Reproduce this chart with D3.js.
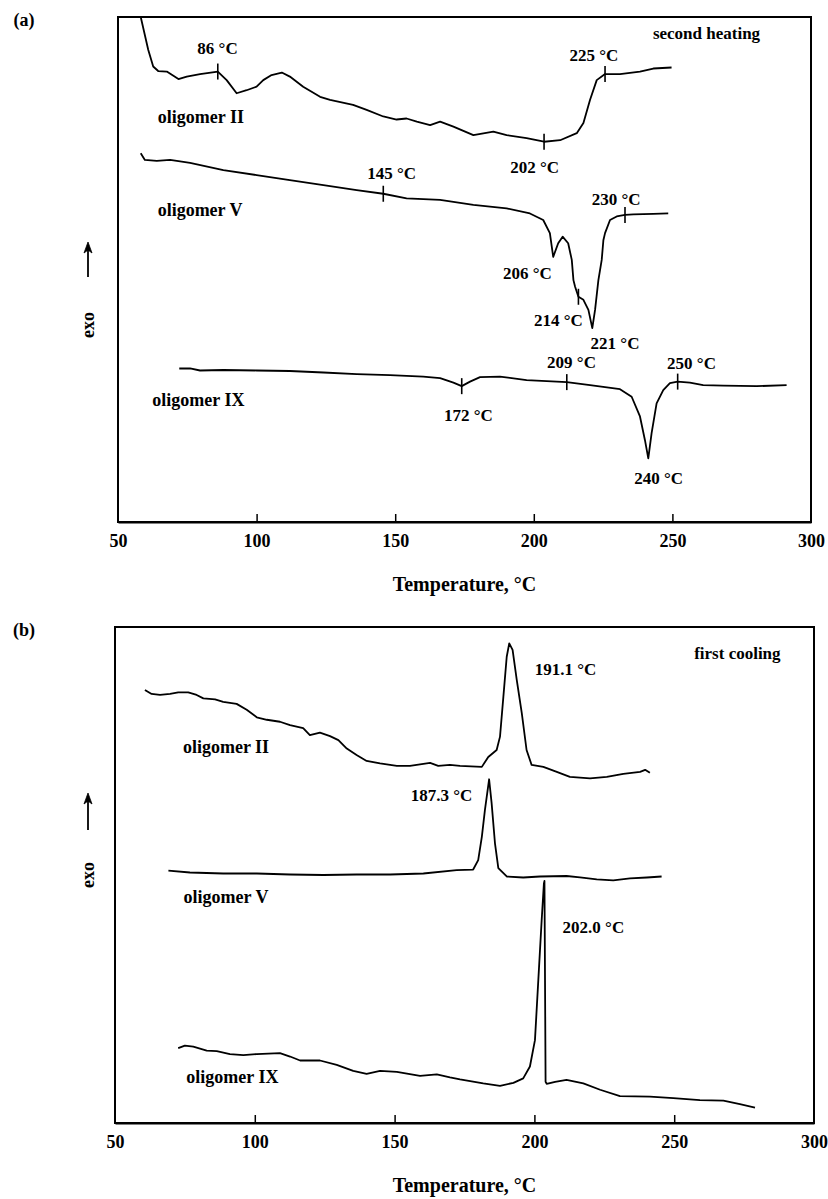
<!DOCTYPE html>
<html>
<head>
<meta charset="utf-8">
<script src="https://cdn.jsdelivr.net/npm/d3@7"></script>
<style>
body { margin: 0; background: #fff; }
svg text { font-family: "Liberation Serif", "Times New Roman", serif; font-weight: bold; fill: #000; }
</style>
</head>
<body>
<svg id="chart" width="828" height="1199"></svg>
<script>

// x: temperature (°C), y: heat flow in arbitrary units (0 = bottom of frame, 100 = top)
var tempTicks = [50, 100, 150, 200, 250, 300];

// (a) second heating
var heatII = [[58.2,100],[60.9,93.5],[62.7,90.2],[64.5,89.3],[67.6,89.2],[71.8,87.7],[74.8,88.2],[79.6,88.7],[86.0,89.2],
	[89.2,87.5],[92.8,84.9],[96.4,85.5],[100.0,86.2],[102.4,87.5],[105.4,88.5],[109.1,89.0],[112.0,88.2],[116.8,86.2],
	[122.9,84.2],[126.5,83.6],[134.8,82.6],[139.7,81.6],[145.7,80.3],[150.5,79.7],[154.1,79.9],[157.8,79.3],[162.6,78.6],
	[166.2,79.3],[171.0,78.3],[178.2,76.6],[185.4,77.3],[190.2,76.6],[197.4,76.0],[203.7,75.3],[209.5,75.6],[215.5,77.0],
	[217.9,79.0],[220.3,83.6],[222.7,87.5],[225.7,88.7],[231.1,88.7],[238.3,89.2],[243.1,89.8],[249.7,90.0]];

var heatV = [[58.2,73.0],[59.7,71.7],[64.0,71.5],[68.8,71.7],[76.0,71.1],[88.0,69.7],[100.0,68.7],[112.0,67.7],[124.1,66.7],
	[136.1,65.7],[145.7,65.0],[154.1,64.1],[166.2,63.8],[178.2,62.8],[190.2,62.1],[198.6,61.1],[203.4,59.8],[205.8,57.2],
	[207.0,52.5],[208.8,55.2],[210.4,56.5],[212.4,55.2],[213.7,51.9],[214.3,47.9],[214.9,46.6],[216.1,44.6],[217.9,44.0],
	[219.7,42.0],[221.1,38.4],[222.1,42.0],[223.3,47.9],[224.5,51.9],[225.1,55.8],[225.7,57.2],[227.5,59.8],[229.9,60.5],
	[232.9,60.8],[235.9,60.9],[243.1,61.0],[248.5,61.1]];

var heatIX = [[72.1,30.4],[76.0,30.4],[79.6,30.0],[88.0,30.1],[100.0,30.0],[112.0,29.9],[124.1,29.6],[136.1,29.3],[148.1,29.1],
	[160.1,28.8],[166.2,28.5],[171.0,27.6],[174.0,26.9],[177.0,27.8],[180.6,28.7],[187.8,28.8],[197.4,28.1],[211.9,27.7],
	[220.3,27.1],[231.1,26.3],[235.3,24.8],[238.3,20.9],[240.1,16.2],[241.3,12.6],[242.5,17.6],[244.3,23.5],[246.7,26.1],
	[249.1,27.5],[251.9,27.8],[256.3,27.6],[261.1,27.1],[268.4,27.0],[280.4,26.9],[291.2,27.1]];

// (b) first cooling
var coolII = [[60.7,87.3],[63.1,86.5],[66.1,86.3],[69.7,86.5],[72.6,86.8],[76.2,86.8],[79.2,86.3],[81.6,85.6],[85.8,85.4],
	[88.7,84.9],[93.5,84.5],[97.1,83.3],[100.7,81.8],[104.3,81.3],[109.0,80.9],[112.6,80.2],[117.3,79.6],[119.7,78.2],
	[123.3,78.7],[126.9,78.0],[129.9,77.2],[132.9,75.5],[136.4,74.2],[140.0,73.0],[144.8,72.5],[150.8,72.0],[155.5,72.0],
	[160.3,72.4],[162.7,72.6],[165.6,72.0],[169.8,72.2],[173.4,72.0],[181.2,71.8],[183.5,73.8],[186.5,75.2],[187.7,77.9],
	[188.9,85.9],[190.1,94.0],[191.0,96.7],[192.2,95.4],[193.7,89.3],[195.5,82.6],[197.2,75.2],[199.0,72.2],[203.2,71.8],
	[208.0,70.8],[212.7,69.8],[219.9,69.5],[225.9,69.8],[231.8,70.4],[237.8,70.8],[239.6,71.2],[241.3,70.6]];

var coolV = [[69.1,50.9],[76.8,50.5],[88.7,50.3],[100.7,50.3],[112.6,50.1],[124.5,50.0],[136.4,50.1],[148.4,50.1],[160.3,50.3],
	[172.2,51.0],[178.1,51.1],[179.9,53.0],[181.2,57.7],[182.3,63.1],[183.8,69.3],[184.7,64.5],[185.9,56.4],[187.1,51.4],
	[190.1,49.7],[196.0,49.5],[202.0,49.7],[211.5,49.8],[216.3,49.5],[222.3,49.1],[228.2,48.9],[234.2,49.3],[240.2,49.5],
	[245.5,49.7]];

var coolIX = [[72.6,15.1],[75.0,15.6],[78.0,15.4],[82.8,14.6],[86.4,14.5],[91.1,13.9],[95.9,13.7],[100.7,13.9],[109.0,14.1],
	[112.6,13.4],[116.2,12.6],[123.3,12.6],[129.3,11.7],[135.2,10.5],[140.0,9.9],[144.8,10.5],[150.8,10.3],[159.1,9.5],
	[165.1,9.8],[169.8,9.2],[173.4,8.8],[181.7,8.0],[187.7,7.5],[192.5,8.1],[196.0,9.0],[198.4,11.4],[200.2,16.7],
	[201.4,28.8],[202.6,40.9],[203.4,48.3],[203.6,48.8],[204.0,8.3],[204.4,7.9],[207.4,8.3],[211.5,8.7],[217.5,8.0],
	[223.5,6.7],[230.6,5.4],[241.3,5.3],[249.7,5.0],[259.2,4.6],[267.6,4.5],[273.5,3.8],[278.9,3.1]];

// small vertical marks on the curves: [temperature, series index]
var heatMarks = [[86.0,0],[203.7,0],[225.7,0],[145.7,1],[216.1,1],[232.9,1],[174.0,2],[211.9,2],[251.9,2]];
var coolMarks = [];

// texts: [text, temperature, heat flow]
var heatNotes = [
	["oligomer II", 79.9, 80.2], ["oligomer V", 79.6, 61.8], ["oligomer IX", 79.0, 24.2],
	["second heating", 262.3, 96.8],
	["86 °C", 85.9, 93.9], ["225 °C", 221.7, 92.5], ["202 °C", 200.3, 70.3],
	["145 °C", 148.7, 69.1], ["230 °C", 229.7, 64.0], ["206 °C", 197.7, 49.3],
	["214 °C", 208.9, 40.0], ["221 °C", 229.3, 35.4], ["209 °C", 213.6, 31.7],
	["250 °C", 256.9, 31.5], ["172 °C", 176.4, 21.2], ["240 °C", 245.0, 8.7]];

var coolNotes = [
	["oligomer II", 89.7, 75.8], ["oligomer V", 89.7, 45.6], ["oligomer IX", 92.0, 9.3],
	["first cooling", 272.6, 94.8],
	["191.1 °C", 211.1, 91.5], ["187.3 °C", 166.8, 66.1], ["202.0 °C", 221.1, 39.5]];

var panels = [
	{ tag: "(a)", box: { left: 118, right: 811, top: 17, bottom: 522 }, series: [heatII, heatV, heatIX],
		marks: heatMarks, notes: heatNotes, arrow: [242, 277], exo: 325 },
	{ tag: "(b)", box: { left: 115, right: 814, top: 627, bottom: 1123 }, series: [coolII, coolV, coolIX],
		marks: coolMarks, notes: coolNotes, arrow: [793, 830], exo: 875 },
];

var svg = d3.select("#chart");

function value_at(data, t)	{
	var i = d3.bisector(d => d[0]).left(data, t);
	if(i <= 0) return data[0][1];
	if(i >= data.length) return data[data.length - 1][1];
	var a = data[i - 1], b = data[i];
	return a[1] + (b[1] - a[1]) * (t - a[0]) / (b[0] - a[0]);
}

function draw_panel(p)	{

	var g = svg.append("g");
	var b = p.box;

	var x = d3.scaleLinear([50, 300], [b.left, b.right]);
	var y = d3.scaleLinear([0, 100], [b.bottom, b.top]);

	// frame
	g.append("rect")
		.attr("x", b.left).attr("y", b.top)
		.attr("width", b.right - b.left).attr("height", b.bottom - b.top)
		.attr("fill", "none").attr("stroke", "#000").attr("stroke-width", 2);

	// x axis with inner ticks
	var xaxis = d3.axisBottom(x).tickValues(tempTicks).tickSize(-8).tickPadding(12).tickSizeOuter(0);
	var ax = g.append("g")
		.attr("transform", `translate(0,${b.bottom})`)
		.call(xaxis);
	ax.select(".domain").attr("stroke-width", 2);
	ax.selectAll(".tick line").attr("stroke-width", 1.5)
		.attr("opacity", d => (d === 50 || d === 300) ? 0 : 1);
	ax.selectAll(".tick text")
		.attr("font-size", 18)
		.attr("font-family", "Liberation Serif")
		.attr("font-weight", "bold");

	g.append("text")
		.attr("x", (b.left + b.right) / 2)
		.attr("y", b.bottom + 69)
		.attr("text-anchor", "middle")
		.attr("font-size", 20)
		.text("Temperature, °C");

	g.append("text")
		.attr("x", 24).attr("y", b.top + 9)
		.attr("text-anchor", "middle")
		.attr("font-size", 18)
		.text(p.tag);

	// exo label with arrow (shaft + filled head)
	g.append("line")
		.attr("x1", 88).attr("x2", 88)
		.attr("y1", p.arrow[1]).attr("y2", p.arrow[0] + 8)
		.attr("stroke", "#000").attr("stroke-width", 1.8);

	g.append("path")
		.attr("d", `M88,${p.arrow[0]} L84,${p.arrow[0] + 11} L88,${p.arrow[0] + 8} L92,${p.arrow[0] + 11} Z`)
		.attr("fill", "#000").attr("stroke", "#000").attr("stroke-width", 0.8);

	g.append("text")
		.attr("transform", `translate(88,${p.exo}) rotate(-90)`)
		.attr("text-anchor", "middle")
		.attr("dy", "0.35em")
		.attr("font-size", 18)
		.text("exo");

	// curves
	var line = d3.line(d => x(d[0]), d => y(d[1]));

	g.selectAll(".curve")
		.data(p.series)
		.join("path")
		.attr("class", "curve")
		.attr("fill", "none")
		.attr("stroke", "#000")
		.attr("stroke-width", 1.8)
		.attr("stroke-linejoin", "round")
		.attr("d", d => line(d));

	// marks
	g.selectAll(".mark")
		.data(p.marks)
		.join("line")
		.attr("class", "mark")
		.attr("stroke", "#000")
		.attr("stroke-width", 1.6)
		.attr("x1", d => x(d[0])).attr("x2", d => x(d[0]))
		.attr("y1", d => y(value_at(p.series[d[1]], d[0])) - 8)
		.attr("y2", d => y(value_at(p.series[d[1]], d[0])) + 8);

	// texts
	g.selectAll(".note")
		.data(p.notes)
		.join("text")
		.attr("class", "note")
		.attr("x", d => x(d[1]))
		.attr("y", d => y(d[2]))
		.attr("dy", "0.35em")
		.attr("text-anchor", "middle")
		.attr("font-size", d => d[0].startsWith("oligomer") ? 18 : 17)
		.text(d => d[0]);
}

panels.forEach(draw_panel);

</script>
</body>
</html>
